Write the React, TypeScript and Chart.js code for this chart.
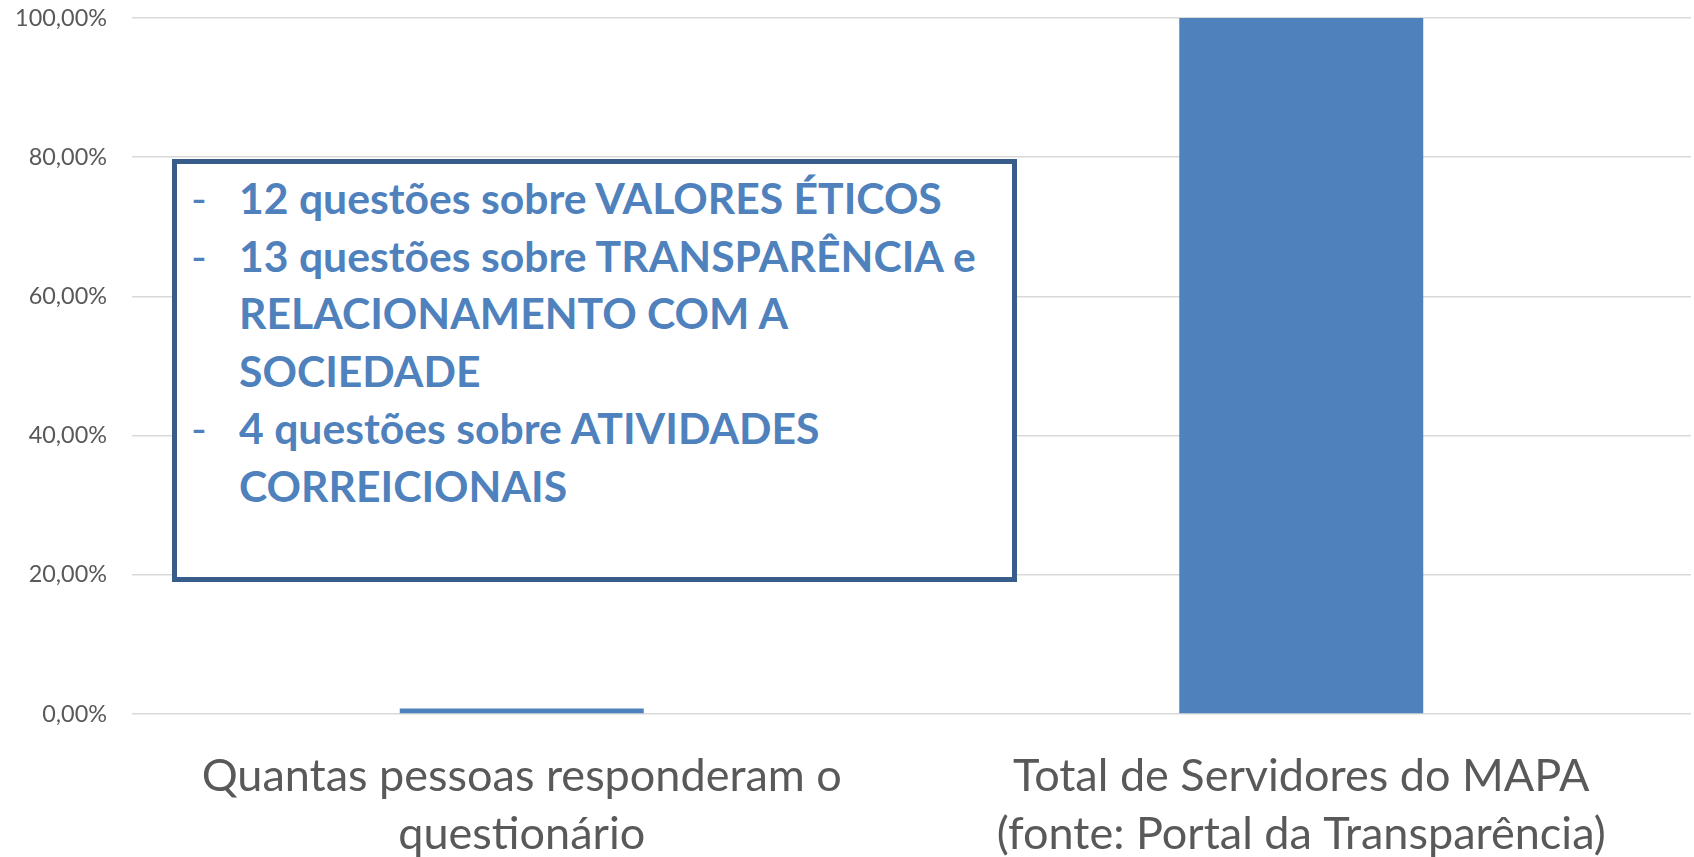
import React, { useEffect, useRef } from "react";
import { Chart, registerables } from "chart.js";

Chart.register(...registerables);

const categories: string[][] = [
  ["Quantas pessoas responderam o", "questionário"],
  ["Total de Servidores do MAPA", "(fonte: Portal da Transparência)"],
];
const values: number[] = [0.008, 1.0];
const yMin = 0;
const yMax = 1;
const yStep = 0.2;

const boxLines: { bullet: boolean; text: string }[] = [
  { bullet: true, text: "12 questões sobre VALORES ÉTICOS" },
  { bullet: true, text: "13 questões sobre TRANSPARÊNCIA e" },
  { bullet: false, text: "RELACIONAMENTO COM A" },
  { bullet: false, text: "SOCIEDADE" },
  { bullet: true, text: "4 questões sobre ATIVIDADES" },
  { bullet: false, text: "CORREICIONAIS" },
];

const BAR_COLOR = "#4F81BD";
const GRID_COLOR = "#d9d9d9";
const TEXT_COLOR = "#595959";

export default function App() {
  const canvasRef = useRef<HTMLCanvasElement | null>(null);

  useEffect(() => {
    document.body.style.margin = "0";
    const canvas = canvasRef.current;
    if (!canvas) return;
    const chart = new Chart(canvas, {
      type: "bar",
      data: {
        labels: categories,
        datasets: [
          {
            data: values,
            backgroundColor: BAR_COLOR,
            borderWidth: 0,
            barPercentage: 0.313,
            categoryPercentage: 1,
          },
        ],
      },
      options: {
        animation: false,
        responsive: false,
        maintainAspectRatio: false,
        layout: { padding: { top: 18, right: 3, left: 0, bottom: 0 } },
        plugins: { legend: { display: false }, tooltip: { enabled: false } },
        scales: {
          x: {
            grid: { display: false, drawTicks: false },
            border: { display: false },
            ticks: {
              color: TEXT_COLOR,
              padding: 33,
              maxRotation: 0,
              autoSkip: false,
              font: { family: "Lato", size: 45, lineHeight: 1.29 },
            },
            afterFit: (scale: any) => {
              scale.height = 143;
              scale.paddingLeft = 0;
              scale.paddingRight = 0;
            },
          },
          y: {
            min: yMin,
            max: yMax,
            grid: { color: GRID_COLOR, lineWidth: 1.5, drawTicks: false },
            border: { display: false },
            ticks: {
              stepSize: yStep,
              color: TEXT_COLOR,
              padding: 25,
              font: { family: "Lato", size: 23.4 },
              callback: (v: any) => (Number(v) * 100).toFixed(2).replace(".", ",") + "%",
            },
            afterFit: (scale: any) => {
              scale.width = 132;
              scale.paddingTop = 0;
              scale.paddingBottom = 0;
            },
          },
        },
      },
    });
    return () => chart.destroy();
  }, []);

  return (
    <div style={{ position: "relative", width: 1694, height: 857 }}>
      <canvas ref={canvasRef} width={1694} height={857} style={{ display: "block" }} />
      <div
        style={{
          position: "absolute",
          left: 172,
          top: 159,
          width: 845,
          height: 423,
          boxSizing: "border-box",
          border: "5px solid #385D8A",
          background: "#ffffff",
          fontFamily: "Lato",
          fontWeight: 700,
          fontSize: 42.7,
          color: BAR_COLOR,
          paddingTop: 5,
        }}
      >
        {boxLines.map((l, i) => (
          <div key={i} style={{ position: "relative", height: 57.6, lineHeight: "57.6px", whiteSpace: "nowrap" }}>
            {l.bullet ? (
              <span style={{ position: "absolute", left: 14, fontWeight: 400 }}>-</span>
            ) : null}
            <span style={{ position: "absolute", left: 62 }}>{l.text}</span>
          </div>
        ))}
      </div>
    </div>
  );
}
